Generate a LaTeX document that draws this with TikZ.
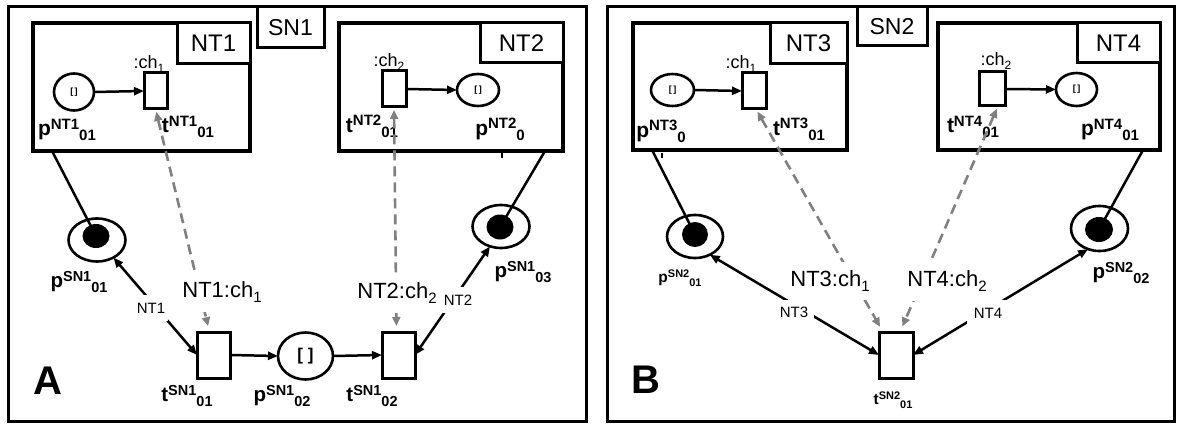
\documentclass[tikz,border=0pt]{standalone}
\usepackage{fontspec}
\setmainfont{Liberation Sans}
\usetikzlibrary{shapes.geometric,arrows.meta}
\definecolor{gline}{RGB}{128,128,128}
\newcommand\fs[1]{\fontsize{#1}{#1}\selectfont}
\newcommand\PTl[5]{{\fs{#4}\bfseries #1\raisebox{0.32em}{\fs{#5}#2}\raisebox{-0.24em}{\fs{#5}#3}}}
\newcommand\CHl[4]{{\fs{#3}#1\raisebox{-0.25em}{\fs{#4}#2}}}
\tikzset{
 panel/.style={draw, line width=3pt, inner sep=0pt, outer sep=0pt},
 ntbox/.style={draw, line width=3.5pt, inner sep=0pt, outer sep=0pt},
 lbox/.style={draw, fill=white, line width=3pt, inner sep=0pt, outer sep=0pt},
 place/.style={ellipse, draw, line width=2.6pt, inner sep=0pt, outer sep=0pt},
 tokdot/.style={ellipse, fill=black, inner sep=0pt, outer sep=0pt},
 trans/.style={rectangle, draw, line width=3pt, fill=white, inner sep=0pt, outer sep=0pt},
 txt/.style={inner sep=0pt, outer sep=0pt},
 wl/.style={fill=white, inner xsep=2pt, outer sep=0pt},
 conn/.style={line width=2.5pt},
 arc/.style={line width=2.5pt, -{Triangle[length=10pt,width=8pt]}},
 darc/.style={line width=2.5pt, {Triangle[length=10pt,width=8pt]}-{Triangle[length=10pt,width=8pt]}},
 gdash/.style={gline, line width=2.6pt, dash pattern=on 10pt off 6pt,
   {Triangle[length=9pt,width=8pt]}-{Triangle[length=9pt,width=8pt]}, shorten <=3pt, shorten >=6pt},
}
\begin{document}
\begin{tikzpicture}[x=1pt,y=-1pt]
\useasboundingbox (0,0) rectangle (1180,425);
% panels
\node[panel, minimum width=578pt, minimum height=414pt] (panelA) at (297,214) {};
\node[panel, minimum width=567pt, minimum height=414pt] (panelB) at (890.5,214) {};
% NT boxes
\node[ntbox, minimum width=217pt, minimum height=128pt] (NT1box) at (141.5,87) {};
\node[ntbox, minimum width=224pt, minimum height=128pt] (NT2box) at (451,87) {};
\node[ntbox, minimum width=214pt, minimum height=127pt] (NT3box) at (740,86.5) {};
\node[ntbox, minimum width=222pt, minimum height=127pt] (NT4box) at (1049,86.5) {};
% label boxes
\node[lbox, minimum width=67pt, minimum height=41pt] (SN1) at (290.5,27.5) {\fs{23}SN1};
\node[lbox, minimum width=70pt, minimum height=39pt] (SN2) at (892,26.5) {\fs{23}SN2};
\node[lbox, minimum width=73pt, minimum height=41pt] (NT1l) at (213.5,43.5) {\fs{24}NT1};
\node[lbox, minimum width=83pt, minimum height=40pt] (NT2l) at (521.5,43) {\fs{24}NT2};
\node[lbox, minimum width=77pt, minimum height=41pt] (NT3l) at (808.5,43.5) {\fs{24}NT3};
\node[lbox, minimum width=83pt, minimum height=40pt] (NT4l) at (1118.5,43) {\fs{24}NT4};
% NT internals
\node[place, minimum width=40pt, minimum height=37pt] (pNT101) at (74,92) {\fs{9}\bfseries[\,]};
\node[trans, minimum width=23pt, minimum height=36pt] (tNT101) at (155.5,91) {};
\draw[arc] (pNT101.east) -- (tNT101.west);
\node[place, minimum width=42pt, minimum height=32pt] (pNT201) at (478,90) {\fs{9}\bfseries[\,]};
\node[trans, minimum width=24pt, minimum height=36pt] (tNT201) at (394,89) {};
\draw[arc] (tNT201.east) -- (pNT201.west);
\node[place, minimum width=43pt, minimum height=32pt] (pNT301) at (672.5,90) {\fs{9}\bfseries[\,]};
\node[trans, minimum width=24pt, minimum height=36pt] (tNT301) at (754,91) {};
\draw[arc] (pNT301.east) -- (tNT301.west);
\node[place, minimum width=41pt, minimum height=33pt] (pNT401) at (1076.5,89.5) {\fs{9}\bfseries[\,]};
\node[trans, minimum width=26pt, minimum height=34pt] (tNT401) at (992,89) {};
\draw[arc] (tNT401.east) -- (pNT401.west);
% NT labels
\node[txt] (lch1a) at (149,64) {\CHl{:ch}{1}{18}{12}};
\node[txt] (lch2a) at (389,62) {\CHl{:ch}{2}{18}{12}};
\node[txt] (lch1b) at (741,64) {\CHl{:ch}{1}{18}{12}};
\node[txt] (lch2b) at (996,61) {\CHl{:ch}{2}{18}{12}};
\node[txt] (lpNT101) at (67,130) {\PTl{p}{NT1}{01}{21}{15}};
\node[txt] (ltNT101) at (188,127) {\PTl{t}{NT1}{01}{21}{15}};
\node[txt] (ltNT201) at (372,126) {\PTl{t}{NT2}{01}{21}{15}};
\node[txt] (lpNT201) at (500,129) {\PTl{p}{NT2}{0}{21}{15}};
\node[txt] (lpNT301) at (661,131) {\PTl{p}{NT3}{0}{21}{15}};
\node[txt] (ltNT301) at (799,129) {\PTl{t}{NT3}{01}{21}{15}};
\node[txt] (ltNT401) at (973,127) {\PTl{t}{NT4}{01}{21}{15}};
\node[txt] (lpNT401) at (1110,130) {\PTl{p}{NT4}{01}{21}{15}};
\draw[line width=1.5pt] (502,153) -- (502,158);
\draw[line width=1.5pt] (662,153) -- (662,158);
% SN places and transitions
\node[place, minimum width=57pt, minimum height=43pt] (pSN101) at (97,240) {};
\node[place, minimum width=57pt, minimum height=43pt] (pSN103) at (501,226.5) {};
\node[place, minimum width=56pt, minimum height=43pt] (pSN201) at (695,236.5) {};
\node[place, minimum width=57pt, minimum height=45pt] (pSN202) at (1099.5,228.5) {};
\node[trans, minimum width=33pt, minimum height=46pt] (tSN101) at (213.5,355) {};
\node[trans, minimum width=33pt, minimum height=46pt] (tSN102) at (398.5,355) {};
\node[trans, minimum width=34pt, minimum height=46pt] (tSN201) at (896,355) {};
\node[place, fill=white, minimum width=55pt, minimum height=47pt] (pSN102) at (305.5,356) {\fs{17}\bfseries[ ]};
% lines from NT boxes to tokens
\coordinate (c1) at (52,151);
\coordinate (c2) at (545,151);
\coordinate (c3) at (652,150);
\coordinate (c4) at (1143,150);
\node[tokdot, minimum width=27pt, minimum height=24pt] (pSN101d) at (96,236) {};
\node[tokdot, minimum width=27pt, minimum height=25pt] (pSN103d) at (500,227) {};
\node[tokdot, minimum width=26pt, minimum height=25pt] (pSN201d) at (695,234.5) {};
\node[tokdot, minimum width=28pt, minimum height=25pt] (pSN202d) at (1099,229.5) {};
\draw[conn] (c1) -- (pSN101d.center);
\draw[conn] (c2) -- (pSN103d.center);
\draw[conn] (c3) -- (pSN201d.center);
\draw[conn] (c4) -- (pSN202d.center);
% arcs
\draw[arc] (tSN101.east) -- (pSN102.west);
\draw[arc] (pSN102.east) -- (tSN102.west);
\draw[darc] (pSN101.-47) -- (tSN101.west);
\draw[darc] (pSN103.-119) -- (tSN102.east);
\draw[darc] (pSN201.-51) -- (tSN201.west);
\draw[darc] (pSN202.-119) -- (tSN201.east);
% gray channel arrows
\draw[gdash] (tNT101.south) -- ([xshift=-4pt]tSN101.north);
\draw[gdash] (tNT201.south) -- ([xshift=-2pt]tSN102.north);
\draw[gdash] ([xshift=2pt]tNT301.south) -- ([xshift=4pt]tSN201.north west);
\draw[gdash] ([xshift=6pt]tNT401.south) -- ([xshift=4pt]tSN201.north);
% white labels
\node[wl, inner ysep=9pt] (lNT1ch) at (222,292) {\CHl{NT1:ch}{1}{22}{15}};
\node[wl, inner ysep=9pt] (lNT2ch) at (397,293) {\CHl{NT2:ch}{2}{22}{15}};
\node[wl, inner ysep=8pt] (lNT3ch) at (830,281) {\CHl{NT3:ch}{1}{22}{15}};
\node[wl, inner ysep=9pt] (lNT4ch) at (947,281) {\CHl{NT4:ch}{2}{22}{15}};
\node[wl, inner ysep=8pt, inner xsep=3pt] (lNT1) at (151,308) {\fs{15}NT1};
\node[wl, inner ysep=8pt, inner xsep=3pt] (lNT2) at (458,300) {\fs{15}NT2};
\node[wl, inner ysep=7pt, inner xsep=6pt] (lNT3) at (794,312) {\fs{15}NT3};
\node[wl, inner ysep=8pt, inner xsep=7pt] (lNT4) at (988,313) {\fs{15}NT4};
% place/transition labels
\node[txt] (lpSN101) at (79,282) {\PTl{p}{SN1}{01}{20.5}{14.5}};
\node[txt] (lpSN103) at (523,272) {\PTl{p}{SN1}{03}{20.5}{14.5}};
\node[txt] (ltSN101) at (187,396) {\PTl{t}{SN1}{01}{20.5}{14.5}};
\node[txt] (lpSN102) at (282,396) {\PTl{p}{SN1}{02}{20.5}{14.5}};
\node[txt] (ltSN102) at (372,396) {\PTl{t}{SN1}{02}{20.5}{14.5}};
\node[txt] (lpSN201) at (680,278) {\PTl{p}{SN2}{01}{15.5}{11}};
\node[txt] (ltSN201) at (893,400) {\PTl{t}{SN2}{01}{15.5}{11}};
\node[txt] (lpSN202) at (1121,273) {\PTl{p}{SN2}{02}{20.5}{14.5}};
% panel letters
\node[txt] (lA) at (48,381) {\fs{40}\bfseries A};
\node[txt] (lB) at (646,380) {\fs{40}\bfseries B};
\end{tikzpicture}
\end{document}
